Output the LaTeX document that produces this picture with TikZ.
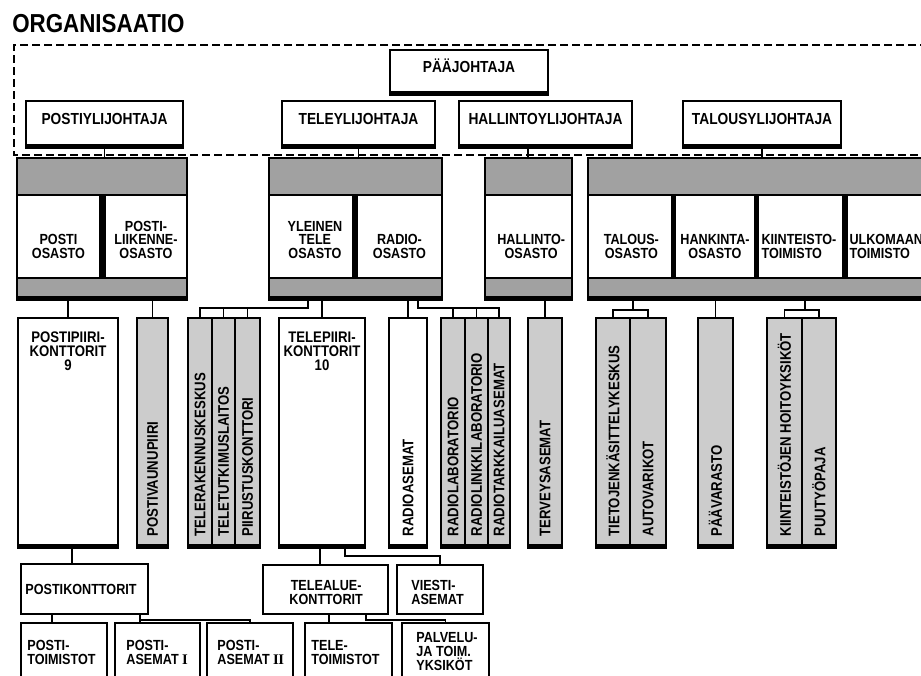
\documentclass[tikz,border=0pt]{standalone}
\usepackage{fontspec}
\setmainfont{Liberation Sans}[FakeStretch=0.86]
\newfontfamily\romfont{Liberation Serif}
\usetikzlibrary{fit,calc}
\definecolor{bandgray}{gray}{0.63}
\definecolor{colgray}{gray}{0.8}
\tikzset{
  frame/.style={line width=1.2pt, dash pattern=on 6pt off 3pt},
  hbox/.style={draw, line width=1.3pt, fill=white, inner sep=0pt, font=\bfseries\fontsize{12}{12}\selectfont},
  band/.style={draw, line width=1.3pt, fill=bandgray, inner sep=0pt},
  sub/.style={draw, line width=1.1pt, fill=white, inner sep=0pt},
  deptxt/.style={inner sep=0pt, align=center, anchor=south, font=\bfseries\fontsize{11}{10}\selectfont},
  colw/.style={draw, line width=1.1pt, fill=white, inner sep=0pt},
  cols/.style={draw, line width=1.1pt, fill=colgray, inner sep=0pt},
  vtxt/.style={inner sep=0pt, rotate=90, anchor=west, font=\bfseries\fontsize{11.5}{11.5}\selectfont},
  toptxt/.style={inner sep=0pt, align=center, anchor=north, font=\bfseries\fontsize{11.5}{10.5}\selectfont},
  lbox/.style={draw, line width=1.3pt, fill=white, inner sep=0pt},
  btxt/.style={inner sep=0pt, align=left, font=\bfseries\fontsize{11}{10.5}\selectfont},
  conn/.style={line width=1.4pt},
}
\newcommand\botbar[2]{\fill ([yshift=#2]#1.south west) rectangle (#1.south east);}
\newcommand\colbox[5]{%
  \node[#1, fit={(#3,318) (#4,548)}] (#2) {};
  \fill ([yshift=3.5pt]#2.south west) rectangle (#2.south east);
  \node[vtxt] (#2-t) at ([yshift=9pt]#2.south) {#5};}
\begin{document}
\begin{tikzpicture}[x=0.75pt,y=-0.75pt]
\useasboundingbox (0,0) rectangle (921,675);
\fill[white] (0,0) rectangle (921,675);
\clip (0,0) rectangle (921,675);

% title
\node[anchor=base west, inner sep=0pt, font=\bfseries\fontsize{19.5}{20}\selectfont] (title) at (12,32) {ORGANISAATIO};

% dashed frame
\draw[frame] (940,45) -- (14,45) -- (14,155) -- (940,155);

% top level boxes
\node[hbox, fit={(390,50) (548,95)}] (pj) {PÄÄJOHTAJA};
\node[hbox, fit={(26,101) (183,148)}] (py) {POSTIYLIJOHTAJA};
\node[hbox, fit={(282,101) (435,148)}] (ty) {TELEYLIJOHTAJA};
\node[hbox, fit={(459,101) (632,148)}] (hy) {HALLINTOYLIJOHTAJA};
\node[hbox, fit={(683,101) (841,148)}] (tay) {TALOUSYLIJOHTAJA};
\foreach \n in {pj,py,ty,hy,tay} {\botbar{\n}{3.75pt}}

% department groups
\node[band, fit={(17,158) (187,300)}] (g1) {};
\node[sub, fit={(17,195) (100,278)}] (posti) {};
\node[sub, fit={(105,195) (187,278)}] (pliik) {};
\fill (posti.north east) rectangle (pliik.south west);
\botbar{g1}{3.75pt}

\node[band, fit={(269,158) (442,300)}] (g2) {};
\node[sub, fit={(269,195) (353,278)}] (yltele) {};
\node[sub, fit={(357,195) (442,278)}] (radio) {};
\fill (yltele.north east) rectangle (radio.south west);
\botbar{g2}{3.75pt}

\node[band, fit={(485,158) (572,300)}] (g3) {};
\node[sub, fit={(485,195) (572,278)}] (hall) {};
\botbar{g3}{3.75pt}

\node[band, fit={(588,158) (945,300)}] (g4) {};
\node[sub, fit={(588,195) (672,278)}] (talo) {};
\node[sub, fit={(675,195) (755,278)}] (hank) {};
\node[sub, fit={(758,195) (843,278)}] (kiint) {};
\node[sub, fit={(847,195) (945,278)}] (ulko) {};
\fill (talo.north east) rectangle (hank.south west);
\fill (hank.north east) rectangle (kiint.south west);
\fill (kiint.north east) rectangle (ulko.south west);
\botbar{g4}{3.75pt}

\node[deptxt] (posti-t) at ([yshift=15pt]posti.south) {POSTI\\OSASTO};
\node[deptxt] (pliik-t) at ([yshift=15pt]pliik.south) {POSTI-\\LIIKENNE-\\OSASTO};
\node[deptxt] (yltele-t) at ([xshift=3pt,yshift=15pt]yltele.south) {YLEINEN\\TELE\\OSASTO};
\node[deptxt] (radio-t) at ([yshift=15pt]radio.south) {RADIO-\\OSASTO};
\node[deptxt] (hall-t) at ([xshift=2pt,yshift=15pt]hall.south) {HALLINTO-\\OSASTO};
\node[deptxt] (talo-t) at ([xshift=1pt,yshift=15pt]talo.south) {TALOUS-\\OSASTO};
\node[deptxt] (hank-t) at ([yshift=15pt]hank.south) {HANKINTA-\\OSASTO};
\node[deptxt, align=left, anchor=south west] (kiint-t) at ([xshift=3pt,yshift=15pt]kiint.south west) {KIINTEISTO-\\TOIMISTO};
\node[deptxt, align=left, anchor=south west] (ulko-t) at ([xshift=2.25pt,yshift=15pt]ulko.south west) {ULKOMAAN\\TOIMISTO};

% column row
\node[colw, fit={(18,318) (118,548)}] (ppk) {};
\botbar{ppk}{3.5pt}
\node[toptxt] (ppk-t) at ([yshift=-10.5pt]ppk.north) {POSTIPIIRI-\\KONTTORIT\\9};
\colbox{cols}{pvp}{137}{168}{POSTIVAUNUPIIRI}
\colbox{cols}{trk}{188}{212}{TELERAKENNUSKESKUS}
\colbox{cols}{ttl}{212}{235}{TELETUTKIMUSLAITOS}
\colbox{cols}{pk}{235}{260}{PIIRUSTUSKONTTORI}
\node[colw, fit={(279,318) (365,548)}] (tpk) {};
\botbar{tpk}{3.5pt}
\node[toptxt] (tpk-t) at ([yshift=-10.5pt]tpk.north) {TELEPIIRI-\\KONTTORIT\\10};
\colbox{colw}{ras}{389}{427}{RADIOASEMAT}
\colbox{cols}{rlab}{441}{465}{RADIOLABORATORIO}
\colbox{cols}{rlink}{465}{488}{RADIOLINKKILABORATORIO}
\colbox{cols}{rtark}{488}{510}{RADIOTARKKAILUASEMAT}
\colbox{cols}{terv}{528}{562}{TERVEYSASEMAT}
\colbox{cols}{tieto}{596}{630}{TIETOJENKÄSITTELYKESKUS}
\colbox{cols}{auto}{630}{666}{AUTOVARIKOT}
\colbox{cols}{paav}{698}{733}{PÄÄVARASTO}
\colbox{cols}{kho}{767}{802}{KIINTEISTÖJEN HOITOYKSIKÖT}
\colbox{cols}{puu}{802}{836}{PUUTYÖPAJA}

% lower boxes
\node[lbox, fit={(21,564) (148,614)}] (pkont) {};
\node[lbox, fit={(21,623) (107,690)}] (ptoim) {};
\node[lbox, fit={(115,623) (200,690)}] (pas1) {};
\node[lbox, fit={(207,623) (293,690)}] (pas2) {};
\node[lbox, fit={(263,565) (388,614)}] (talue) {};
\node[lbox, fit={(397,565) (483,614)}] (viesti) {};
\node[lbox, fit={(305,623) (392,690)}] (teletoim) {};
\node[lbox, fit={(402,623) (489,690)}] (palv) {};

\node[btxt, anchor=west] (pkont-t) at ([xshift=3.75pt,yshift=-0.5pt]pkont.west) {POSTIKONTTORIT};
\node[btxt, anchor=north west] (ptoim-t) at ([xshift=5.25pt,yshift=-13.5pt]ptoim.north west) {POSTI-\\TOIMISTOT};
\node[btxt, anchor=north west] (pas1-t) at ([xshift=9pt,yshift=-13.5pt]pas1.north west) {POSTI-\\ASEMAT {\romfont\bfseries I}};
\node[btxt, anchor=north west] (pas2-t) at ([xshift=8.25pt,yshift=-13.5pt]pas2.north west) {POSTI-\\ASEMAT {\romfont\bfseries I\kern-0.5pt I}};
\node[btxt, align=center] (talue-t) at ([xshift=0.5pt,yshift=-2.5pt]talue.center) {TELEALUE-\\KONTTORIT};
\node[btxt, anchor=west] (viesti-t) at ([xshift=11.25pt,yshift=-2.5pt]viesti.west) {VIESTI-\\ASEMAT};
\node[btxt, anchor=north west] (teletoim-t) at ([xshift=5.25pt,yshift=-13.5pt]teletoim.north west) {TELE-\\TOIMISTOT};
\node[btxt, anchor=north west] (palv-t) at ([xshift=11.25pt,yshift=-7.5pt]palv.north west) {PALVELU-\\JA TOIM.\\YKSIKÖT};

% helper coordinates
\coordinate (x528) at (528,0);
\coordinate (x72) at (72,0);
\coordinate (x52) at (52,0);
\coordinate (x320) at (320,0);
\coordinate (x329) at (329,0);
\coordinate (b2l) at (308,308);
\coordinate (b2r) at (418,308);
\coordinate (b4a) at (633,310);
\coordinate (b4b) at (805,310);
\coordinate (b5) at (140,620);
\coordinate (b6) at (345,556);
\coordinate (b7) at (366,620);

% connectors: chiefs to groups
\draw[conn] (py.south) -- (py.south |- g1.north);
\draw[conn] (ty.south) -- (ty.south |- g2.north);
\draw[conn] (hy.south -| x528) -- (g3.north -| x528);
\draw[conn] (tay.south) -- (tay.south |- g4.north);

% groups to columns
\draw[conn] (ppk.north) -- (ppk.north |- g1.south);
\draw[conn] (pvp.north) -- (pvp.north |- g1.south);
\draw[conn] (g2.south -| b2l) -- (b2l) -- (b2l -| trk.north) -- (trk.north);
\draw[conn] (b2l -| ttl.north) -- (ttl.north);
\draw[conn] (b2l -| pk.north) -- (pk.north);
\draw[conn] (tpk.north) -- (tpk.north |- g2.south);
\draw[conn] (ras.north) -- (ras.north |- g2.south);
\draw[conn] (g2.south -| b2r) -- (b2r) -- (b2r -| rtark.north) -- (rtark.north);
\draw[conn] (b2r -| rlab.north) -- (rlab.north);
\draw[conn] (b2r -| rlink.north) -- (rlink.north);
\draw[conn] (terv.north) -- (terv.north |- g3.south);
\draw[conn] (g4.south -| b4a) -- (b4a);
\draw[conn] (tieto.north) -- (tieto.north |- b4a) -- (auto.north |- b4a) -- (auto.north);
\draw[conn] (paav.north) -- (paav.north |- g4.south);
\draw[conn] (g4.south -| b4b) -- (b4b);
\draw[conn] (kho.north) -- (kho.north |- b4b) -- (puu.north |- b4b) -- (puu.north);

% lower connectors
\draw[conn] (ppk.south -| x72) -- (pkont.north -| x72);
\draw[conn] (pkont.south -| x52) -- (ptoim.north -| x52);
\draw[conn] (pkont.south -| b5) -- (pas1.north -| b5);
\draw[conn] (b5) -- (b5 -| pas2.north) -- (pas2.north);
\draw[conn] (tpk.south -| x320) -- (talue.north -| x320);
\draw[conn] (tpk.south -| b6) -- (b6) -- (b6 -| viesti.north) -- (viesti.north);
\draw[conn] (talue.south -| x329) -- (teletoim.north -| x329);
\draw[conn] (talue.south -| b7) -- (b7) -- (b7 -| palv.north) -- (palv.north);
\end{tikzpicture}
\end{document}
